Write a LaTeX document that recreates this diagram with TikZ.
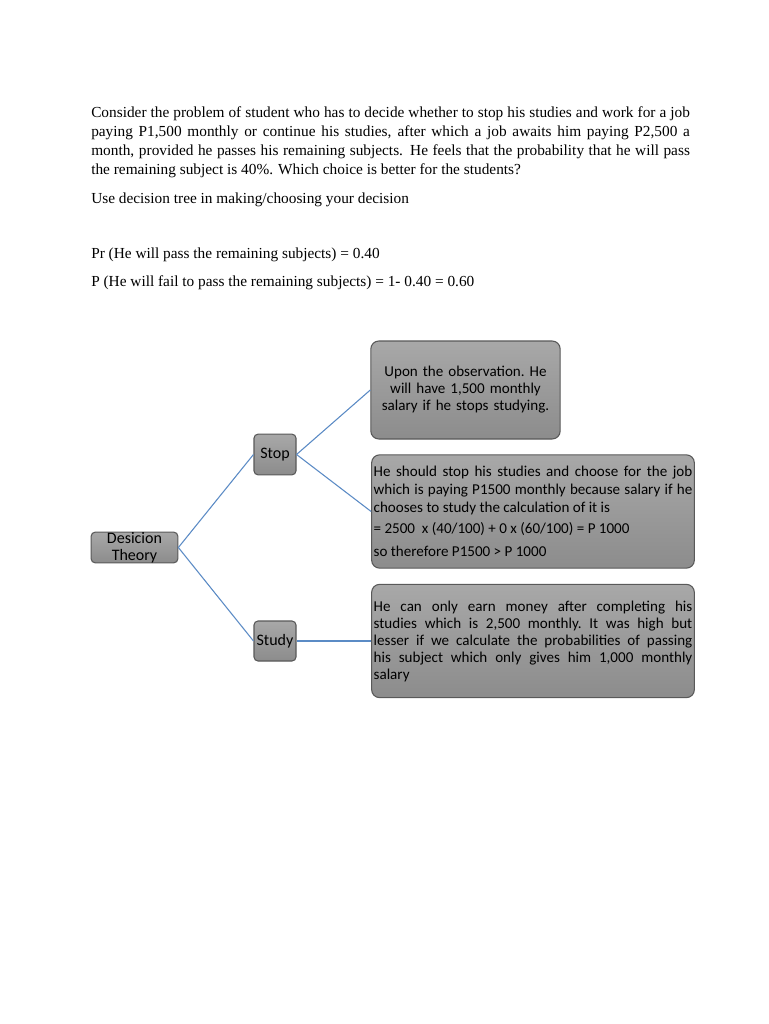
\documentclass[tikz,border=0pt]{standalone}
\usepackage{fontspec}
\setmainfont{Liberation Serif}
\newfontfamily\boxfont{Carlito}
\usepackage{xcolor}
\usetikzlibrary{positioning}
\definecolor{edge}{HTML}{5B8BC5}
\definecolor{rim}{HTML}{595959}
\definecolor{topgray}{HTML}{A8A8A8}
\definecolor{botgray}{HTML}{8C8C8C}

\begin{document}
\begin{tikzpicture}[x=0.75pt, y=-0.75pt,
  txt/.style={anchor=north west, inner sep=0pt, align=justify,
    font=\fontsize{11.5}{14.25}\selectfont},
  note/.style={rectangle, rounded corners=6pt, draw=rim, line width=0.8pt,
    top color=topgray, bottom color=botgray, inner sep=1.5pt,
    font=\boxfont\frenchspacing\fontsize{11.3}{12.75}\selectfont},
  tag/.style={note, rounded corners=3pt, inner sep=0pt, align=center,
    font=\boxfont\fontsize{12}{12.75}\selectfont},
  link/.style={draw=edge, line width=0.8pt}]
\useasboundingbox[fill=white] (0,0) rectangle (768,1024);
% question
\node[txt, text width=449pt] (q) at (91,106) {Consider the problem of student who has to decide whether to stop his studies and work for a job\linebreak
paying P1,500 monthly or continue his studies, after which a job awaits him paying P2,500 a\linebreak
month, provided he passes his remaining subjects. He feels that the probability that he will pass\linebreak
the remaining subject is 40\%. Which choice is better for the students?};
\node[txt] (use) at (91,193) {Use decision tree in making/choosing your decision};
\node[txt] (pr) at (91,248) {Pr (He will pass the remaining subjects) = 0.40};
\node[txt] (pf) at (91,275) {P (He will fail to pass the remaining subjects) = 1- 0.40 = 0.60};
% tree
\node[tag, minimum width=65pt, minimum height=23pt] (root) at (134.5,547.5) {Desicion\\Theory};
\node[tag, minimum width=31.5pt, minimum height=30.5pt] (stop) at (275,454.5) {Stop};
\node[tag, minimum width=31.5pt, minimum height=30pt] (study) at (275,641) {Study};
\node[note, align=center, text width=138pt, minimum width=142pt, minimum height=73.5pt] (o1) at (465.5,390)
  {Upon the observation. He\\ will have 1,500 monthly\\ salary if he stops studying.};
\node[note, align=justify, text width=239pt, minimum height=85pt,
  font=\boxfont\frenchspacing\fontsize{11.3}{13.5}\selectfont] (o2) at (533,511.5)
  {He should stop his studies and choose for the job\linebreak
  which is paying P1500 monthly because salary if he\linebreak
  chooses to study the calculation of it is\par\vspace{2.2pt}
  \raggedright = 2500 \ x (40/100) + 0 x (60/100) = P 1000\par\vspace{3.6pt}
  so therefore P1500 > P 1000};
\node[note, align=justify, text width=239pt, minimum height=85pt] (o3) at (533,641)
  {He can only earn money after completing his\linebreak
  studies which is 2,500 monthly. It was high but\linebreak
  lesser if we calculate the probabilities of passing\linebreak
  his subject which only gives him 1,000 monthly\linebreak
  salary};
\draw[link] (root.east) -- (stop.west);
\draw[link] (root.east) -- (study.west);
\draw[link] (stop.east) -- (o1.west);
\draw[link] (stop.east) -- (o2.west);
\draw[link] (study.east) -- (o3.west);
\end{tikzpicture}
\end{document}
